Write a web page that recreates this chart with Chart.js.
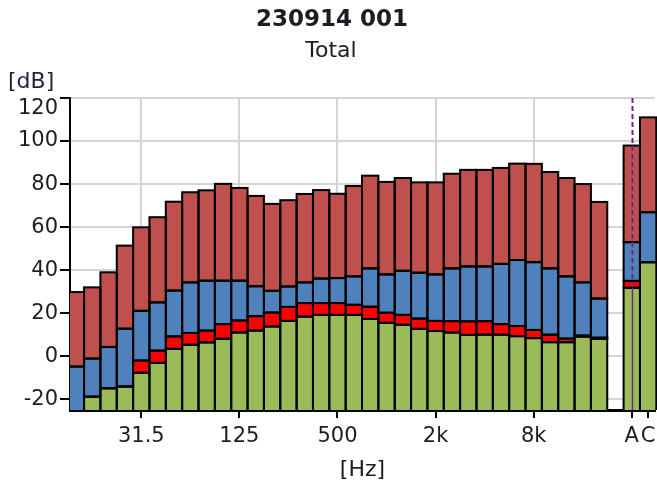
<!DOCTYPE html>
<html>
<head>
<meta charset="utf-8">
<script src="https://cdn.jsdelivr.net/npm/chart.js@4.4.1/dist/chart.umd.min.js"></script>
<style>
  html, body { margin: 0; padding: 0; background: #ffffff; }
  #wrap { width: 657px; height: 488px; }
</style>
</head>
<body>
<div id="wrap"><canvas id="chart" width="657" height="488"></canvas></div>
<script>
// Third-octave bands, an empty slot, then the A and C weighted totals
const bands = ['12.5','16','20','25','31.5','40','50','63','80','100','125','160','200','250','315','400','500','630','800','1k','1.25k','1.6k','2k','2.5k','3.15k','4k','5k','6.3k','8k','10k','12.5k','16k','20k','','A','C'];
const tickBands = ['31.5','125','500','2k','8k','A','C'];
const gridBands = ['31.5','125','500','2k','8k'];
const yTicks = [-20, 0, 20, 40, 60, 80, 100, 120];

// Level (dB) at the top of each coloured layer, bottom layer first
const greenTop  = [-28, -18.8, -14.9, -14.1, -7.7, -3.1, 3.4, 5.3, 6.4, 8.1, 11.0, 11.9, 13.8, 16.4, 18.4, 19.2, 19.2, 19.2, 17.3, 15.5, 14.6, 12.7, 11.7, 11.0, 9.9, 10.0, 10.0, 9.3, 8.4, 6.5, 6.5, 9.1, 8.1, null, 31.8, 43.7];
const redTop    = [-27, -18.8, -14.9, -14.1, -2.0, 2.6, 9.2, 10.8, 11.9, 14.9, 16.6, 18.6, 20.3, 22.9, 24.7, 24.7, 24.7, 23.9, 23.0, 20.2, 19.2, 17.5, 16.4, 16.3, 16.2, 16.3, 14.9, 14.0, 12.2, 10.0, 8.2, 9.6, 8.6, null, 35.0, 43.7];
const blueTop   = [-4.8, -1.1, 4.3, 12.8, 21.1, 25.0, 30.5, 34.3, 35.1, 35.1, 35.1, 32.5, 30.4, 32.4, 34.3, 36.1, 36.3, 37.1, 40.8, 38.0, 39.7, 38.8, 38.0, 40.8, 41.7, 41.7, 42.9, 44.7, 43.7, 40.8, 37.1, 34.3, 26.8, null, 53.0, 66.9];
const maroonTop = [29.8, 32.0, 39.0, 51.4, 59.9, 64.6, 71.8, 76.2, 77.1, 80.1, 78.2, 74.5, 70.8, 72.5, 75.4, 77.2, 75.5, 79.1, 83.9, 81.0, 82.8, 80.8, 80.8, 84.8, 86.6, 86.6, 87.5, 89.5, 89.4, 85.6, 82.8, 80.0, 71.7, null, 97.9, 111.0];

const Y_MIN = -25, Y_MAX = 120;
const FONT = 'DejaVu Sans';
const TEXT = '#1c1c24';

// floating bar segments [bottom, top] for each layer
function segments(lower, upper) {
  const out = [];
  upper.forEach((v, i) => {
    if (v === null) return;
    const lo = lower === null ? Y_MIN - 5 : lower[i];
    out.push({ x: i, y: [lo, v] });
  });
  return out;
}

function layer(label, color, lower, upper) {
  return {
    label,
    data: segments(lower, upper),
    backgroundColor: color,
    borderWidth: 0,
    categoryPercentage: 1,
    barPercentage: 1,
    clip: { left: 0, top: 0, right: 4, bottom: 0 }
  };
}

// 2px black outlines centred on the bar edges, so neighbouring bars share one line
const outlinePlugin = {
  id: 'outline',
  afterDatasetsDraw(chart) {
    const area = chart.chartArea, ctx = chart.ctx;
    ctx.save();
    ctx.beginPath();
    ctx.rect(area.left, area.top - 3, area.right - area.left + 4, area.bottom - area.top + 3);
    ctx.clip();
    ctx.strokeStyle = '#000000';
    ctx.lineWidth = 2;
    chart.data.datasets.forEach((ds, di) => {
      chart.getDatasetMeta(di).data.forEach(el => {
        const p = el.getProps(['x', 'y', 'base', 'width'], true);
        const top = Math.min(p.y, p.base), bottom = Math.max(p.y, p.base);
        ctx.strokeRect(p.x - p.width / 2, top, p.width, bottom - top);
      });
    });
    ctx.restore();
  }
};

const headerPlugin = {
  id: 'header',
  afterDraw(chart) {
    const ctx = chart.ctx;
    ctx.save();
    ctx.fillStyle = TEXT;
    ctx.textBaseline = 'alphabetic';
    ctx.textAlign = 'center';
    ctx.font = 'bold 23px "' + FONT + '"';
    ctx.fillText('230914 001', 332, 26);
    ctx.font = '22px "' + FONT + '"';
    ctx.fillText('Total', 331, 57);
    ctx.textAlign = 'left';
    ctx.fillStyle = '#2a1f3a';
    ctx.fillText('[dB]', 8, 88);
    ctx.restore();
  }
};

// cursor marker on the A band
const cursorPlugin = {
  id: 'cursor',
  afterDatasetsDraw(chart) {
    const xs = chart.scales.x, ys = chart.scales.y, area = chart.chartArea;
    const i = bands.indexOf('A');
    const x = Math.round(xs.getPixelForValue(i)) + 0.5;
    const yG = ys.getPixelForValue(greenTop[i]);
    const ctx = chart.ctx;
    ctx.save();
    ctx.strokeStyle = '#6e2a82';
    ctx.lineWidth = 2;
    ctx.setLineDash([5, 3]);
    ctx.beginPath();
    ctx.moveTo(x, area.top);
    ctx.lineTo(x, yG);
    ctx.stroke();
    ctx.setLineDash([]);
    ctx.lineWidth = 1.5;
    ctx.beginPath();
    ctx.moveTo(x, yG);
    ctx.lineTo(x, area.bottom);
    ctx.stroke();
    ctx.restore();
  }
};

new Chart(document.getElementById('chart'), {
  type: 'bar',
  data: {
    datasets: [
      layer('green', '#9bbb59', null, greenTop),
      layer('red', '#ff0000', greenTop, redTop),
      layer('blue', '#4f81bd', redTop, blueTop),
      layer('maroon', '#c0504d', blueTop, maroonTop)
    ]
  },
  options: {
    responsive: false,
    devicePixelRatio: 1,
    animation: false,
    layout: { padding: { top: 98, left: 0, right: 2, bottom: 0 } },
    plugins: {
      legend: { display: false },
      title: { display: false },
      tooltip: { enabled: false }
    },
    scales: {
      x: {
        type: 'linear',
        stacked: true,
        offset: false,
        min: -0.36,
        max: 35.42,
        afterBuildTicks(scale) {
          scale.ticks = tickBands.map(b => ({ value: bands.indexOf(b) }));
        },
        afterFit(scale) {
          scale.height = 78;
          scale.paddingLeft = 0;
          scale.paddingRight = 0;
        },
        ticks: {
          autoSkip: false,
          maxRotation: 0,
          padding: 6,
          color: TEXT,
          font: { family: FONT, size: 21 },
          callback: v => bands[Math.round(v)]
        },
        grid: {
          offset: false,
          color: ctx => (ctx.tick && gridBands.includes(bands[ctx.tick.value])) ? '#d4d4d4' : 'rgba(0,0,0,0)',
          lineWidth: 2,
          tickColor: '#000000',
          tickLength: 8,
          tickWidth: 2
        },
        border: { color: '#000000', width: 3 },
        title: {
          display: true,
          text: '[Hz]',
          color: TEXT,
          font: { family: FONT, size: 22 },
          padding: { top: 0, bottom: 5 }
        }
      },
      y: {
        min: Y_MIN,
        max: Y_MAX,
        afterBuildTicks(scale) {
          scale.ticks = yTicks.map(v => ({ value: v }));
        },
        afterFit(scale) { scale.width = 70; },
        ticks: {
          autoSkip: false,
          padding: 2,
          color: TEXT,
          font: { family: FONT, size: 21, lineHeight: 1 },
          callback: v => (v === Y_MAX ? ['', String(v)] : String(v))
        },
        grid: {
          color: '#d4d4d4',
          lineWidth: 2,
          tickColor: '#000000',
          tickLength: 10,
          tickWidth: 2
        },
        border: { color: '#000000', width: 2 }
      }
    }
  },
  plugins: [outlinePlugin, headerPlugin, cursorPlugin]
});
</script>
</body>
</html>
